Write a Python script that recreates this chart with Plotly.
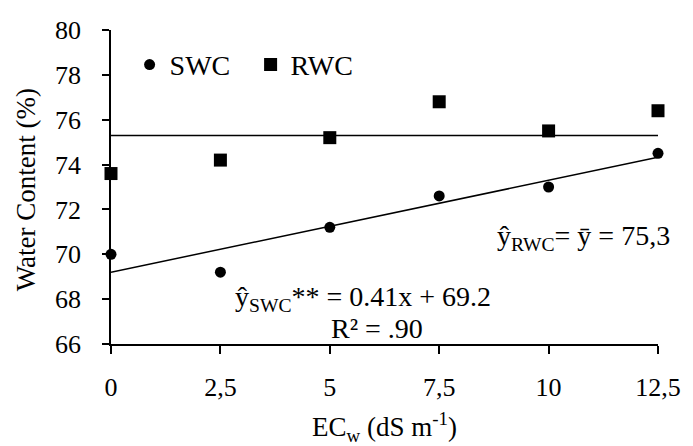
import plotly.graph_objects as go

# ---- data ----
ec_w = [0, 2.5, 5, 7.5, 10, 12.5]
swc = [70.0, 69.2, 71.2, 72.6, 73.0, 74.5]
rwc = [73.6, 74.2, 75.2, 76.8, 75.5, 76.4]
swc_slope = 0.41
swc_intercept = 69.2
rwc_mean = 75.3
x_tick_vals = [0, 2.5, 5, 7.5, 10, 12.5]
x_tick_text = ["0", "2,5", "5", "7,5", "10", "12,5"]
y_tick_vals = [66, 68, 70, 72, 74, 76, 78, 80]

FONT = "Times New Roman, Liberation Serif, Tinos, serif"

x_ends = [ec_w[0], ec_w[-1]]
swc_fit = [swc_slope * x + swc_intercept for x in x_ends]
rwc_fit = [rwc_mean for _ in x_ends]

fig = go.Figure()
fig.add_trace(go.Scatter(x=x_ends, y=rwc_fit, mode="lines",
                         line=dict(color="black", width=1.5),
                         showlegend=False, cliponaxis=False, hoverinfo="skip"))
fig.add_trace(go.Scatter(x=x_ends, y=swc_fit, mode="lines",
                         line=dict(color="black", width=1.5),
                         showlegend=False, cliponaxis=False, hoverinfo="skip"))
fig.add_trace(go.Scatter(x=ec_w, y=swc, mode="markers", name="SWC",
                         marker=dict(symbol="circle", size=11, color="black"),
                         cliponaxis=False))
fig.add_trace(go.Scatter(x=ec_w, y=rwc, mode="markers", name="RWC",
                         marker=dict(symbol="square", size=13, color="black"),
                         cliponaxis=False))

fig.update_layout(
    width=693, height=446,
    margin=dict(l=111, r=28, t=30, b=102),
    paper_bgcolor="white", plot_bgcolor="white",
    font=dict(family=FONT, color="black", size=26),
    legend=dict(orientation="h", x=0.034, y=0.889, xanchor="left", yanchor="middle",
                font=dict(size=28, family=FONT, color="black"), bgcolor="rgba(0,0,0,0)",
                itemwidth=30, entrywidth=76, entrywidthmode="pixels"),
    xaxis=dict(range=[0, 12.5], tickvals=x_tick_vals, ticktext=x_tick_text,
               showgrid=False, zeroline=False, showline=True, linecolor="black",
               linewidth=1.5, ticks="outside", ticklen=8, tickwidth=1.5,
               tickcolor="black", ticklabelstandoff=11,
               tickfont=dict(size=26, family=FONT, color="black")),
    yaxis=dict(range=[66, 80], tickvals=y_tick_vals,
               showgrid=False, zeroline=False, showline=True, linecolor="black",
               linewidth=1.5, ticks="outside", ticklen=7, tickwidth=1.5,
               tickcolor="black", ticklabelstandoff=16,
               tickfont=dict(size=26, family=FONT, color="black")),
)

# axis titles
fig.add_annotation(x=0.5, y=-0.264, xref="paper", yref="paper", xanchor="center", yanchor="middle",
                   text="EC<sub>w</sub> (dS m<sup>-1</sup>)", showarrow=False,
                   font=dict(size=27, family=FONT, color="black"))
fig.add_annotation(x=-0.155, y=0.49, xref="paper", yref="paper", xanchor="center", yanchor="middle",
                   text="Water Content (%)", showarrow=False, textangle=-90,
                   font=dict(size=27, family=FONT, color="black"))

# fit equations
fig.add_annotation(x=5.76, y=68.05, xref="x", yref="y", xanchor="center", yanchor="middle",
                   text="ŷ<sub>SWC</sub>** = 0.41x + 69.2", showarrow=False,
                   font=dict(size=28, family=FONT, color="black"))
fig.add_annotation(x=6.08, y=66.71, xref="x", yref="y", xanchor="center", yanchor="middle",
                   text="R² = .90", showarrow=False,
                   font=dict(size=28, family=FONT, color="black"))
fig.add_annotation(x=1.025, y=70.73, xref="paper", yref="y", xanchor="right", yanchor="middle",
                   text="ŷ<sub>RWC</sub>= ȳ = 75,3", showarrow=False,
                   font=dict(size=28, family=FONT, color="black"))

fig.write_html("out.html", config={"displayModeBar": False},
               post_script="document.body.style.margin='0px';")
